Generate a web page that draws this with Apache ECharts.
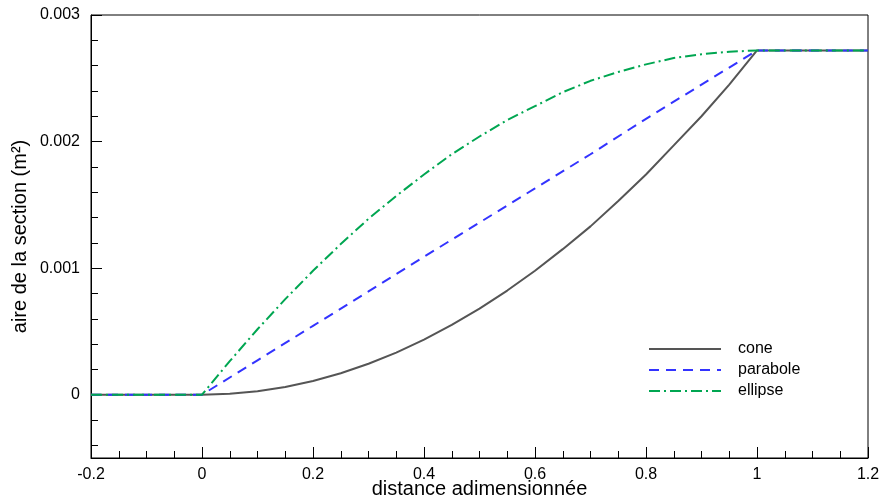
<!DOCTYPE html>
<html>
<head>
<meta charset="utf-8">
<script src="https://cdn.jsdelivr.net/npm/echarts@6/dist/echarts.min.js"></script>
<style>html,body{margin:0;padding:0;background:#fff}#c{width:881px;height:501px}</style>
</head>
<body>
<div id="c"></div>
<script>
// x positions (distance adimensionnée)
var xCone = [-0.2, 0, 0.05, 0.1, 0.15, 0.2, 0.25, 0.3, 0.35, 0.4, 0.45, 0.5, 0.55, 0.6, 0.65, 0.7, 0.75, 0.8, 0.85, 0.9, 0.95, 1.0, 1.2];
var yCone = [0, 0, 0.0000068, 0.0000272, 0.0000612, 0.000109, 0.00017, 0.000245, 0.000333, 0.000435, 0.000551, 0.00068, 0.000823, 0.000979, 0.00115, 0.00133, 0.00153, 0.00174, 0.00197, 0.0022, 0.00245, 0.00272, 0.00272];
var xParabole = [-0.2, 0, 0.1, 0.2, 0.3, 0.4, 0.5, 0.6, 0.7, 0.8, 0.9, 1.0, 1.2];
var yParabole = [0, 0, 0.000272, 0.000544, 0.000816, 0.00109, 0.00136, 0.00163, 0.0019, 0.00218, 0.00245, 0.00272, 0.00272];
var xEllipse = [-0.2, 0, 0.05, 0.1, 0.15, 0.2, 0.25, 0.3, 0.35, 0.4, 0.45, 0.5, 0.55, 0.6, 0.65, 0.7, 0.75, 0.8, 0.85, 0.9, 0.95, 1.0, 1.2];
var yEllipse = [0, 0, 0.000265, 0.000517, 0.000755, 0.000979, 0.00119, 0.00139, 0.00157, 0.00174, 0.0019, 0.00204, 0.00217, 0.00228, 0.00239, 0.00248, 0.00255, 0.00261, 0.00266, 0.00269, 0.00271, 0.00272, 0.00272];
var seriesNames = ['cone', 'parabole', 'ellipse'];
var yMajorTicks = [0, 0.001, 0.002, 0.003];
var yMajorLabels = ['0', '0.001', '0.002', '0.003'];
var yMinorTicks = [-0.0004, -0.0002, 0.0002, 0.0004, 0.0006, 0.0008, 0.0012, 0.0014, 0.0016, 0.0018, 0.0022, 0.0024, 0.0026, 0.0028];
var xTickLabels = {'-0.2': '-0.2', '0': '0', '0.2': '0.2', '0.4': '0.4', '0.6': '0.6', '0.8': '0.8', '1': '1', '1.2': '1.2'};

function pairs(xs, ys) { return xs.map(function (x, i) { return [x, ys[i]]; }); }

var font = 'Liberation Sans, Arial, Helvetica, sans-serif';
var chart = echarts.init(document.getElementById('c'), null, {renderer: 'canvas'});
chart.setOption({
  animation: false,
  backgroundColor: '#fff',
  grid: {left: 91, right: 13, top: 15, bottom: 43, show: true, borderColor: '#000', borderWidth: 1,
    backgroundColor: 'transparent', containLabel: false, outerBoundsMode: 'none'},
  legend: {
    orient: 'vertical', left: 648, top: 341, padding: 0, itemGap: 5,
    itemWidth: 72, itemHeight: 16,
    data: seriesNames,
    itemStyle: {opacity: 0},
    textStyle: {fontFamily: font, fontSize: 16, color: '#000', padding: [0, 0, 0, 12]}
  },
  xAxis: {
    type: 'value', min: -0.2, max: 1.2, interval: 0.2,
    name: 'distance adimensionnée', nameLocation: 'middle', nameGap: 21, nameMoveOverlap: false,
    nameTextStyle: {fontFamily: font, fontSize: 20, color: '#000'},
    axisLine: {show: true, onZero: false, lineStyle: {color: '#000', width: 1}},
    axisTick: {show: true, inside: true, length: 11, lineStyle: {color: '#000'}},
    minorTick: {show: true, splitNumber: 4, length: 7, lineStyle: {color: '#000'}},
    axisLabel: {fontFamily: font, fontSize: 16, color: '#000', margin: 9,
      formatter: function (v) { var k = String(Math.round(v * 100) / 100); return xTickLabels[k] !== undefined ? xTickLabels[k] : k; }},
    splitLine: {show: false}
  },
  yAxis: [{
    type: 'value', min: -0.0005, max: 0.003,
    name: 'aire de la section (m²)', nameLocation: 'middle', nameGap: 61, nameMoveOverlap: false,
    nameTextStyle: {fontFamily: font, fontSize: 20, color: '#000'},
    axisLine: {show: true, onZero: false, lineStyle: {color: '#000', width: 1}},
    axisTick: {show: true, inside: true, length: 11, customValues: yMajorTicks, lineStyle: {color: '#000'}},
    axisLabel: {fontFamily: font, fontSize: 16, color: '#000', margin: 11, customValues: yMajorTicks,
      formatter: function (v) { var i = yMajorTicks.findIndex(function (t) { return Math.abs(t - v) < 1e-9; }); return i >= 0 ? yMajorLabels[i] : ''; }},
    splitLine: {show: false}
  }, {
    type: 'value', min: -0.0005, max: 0.003, position: 'left', offset: 0,
    axisLine: {show: false, onZero: false},
    axisTick: {show: true, inside: true, length: 7, customValues: yMinorTicks, lineStyle: {color: '#000'}},
    axisLabel: {show: false},
    splitLine: {show: false}
  }],
  series: [{
    name: seriesNames[0], type: 'line', data: pairs(xCone, yCone), symbol: 'none', yAxisIndex: 0,
    lineStyle: {color: '#555555', width: 2, type: 'solid'}, itemStyle: {color: '#555555'}
  }, {
    name: seriesNames[1], type: 'line', data: pairs(xParabole, yParabole), symbol: 'none', yAxisIndex: 0,
    lineStyle: {color: '#3333ff', width: 2, type: [10, 7]}, itemStyle: {color: '#3333ff'}
  }, {
    name: seriesNames[2], type: 'line', data: pairs(xEllipse, yEllipse), symbol: 'none', yAxisIndex: 0,
    lineStyle: {color: '#00a651', width: 2, type: [11, 4, 2, 4]}, itemStyle: {color: '#00a651'}
  }]
});
</script>
</body>
</html>
